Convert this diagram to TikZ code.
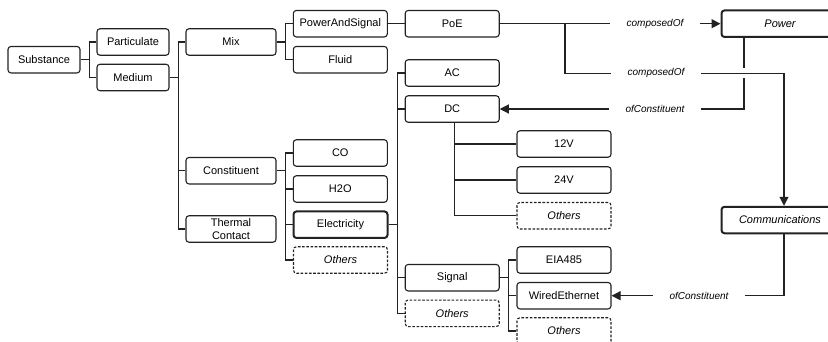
\documentclass[tikz,border=0pt]{standalone}
\usepackage{fontspec}
\setmainfont{Liberation Sans}
\usetikzlibrary{arrows.meta}
\definecolor{lc}{RGB}{34,34,34}
\begin{document}
\begin{tikzpicture}[x=1pt,y=-1pt,
  box/.style={draw=lc, line width=1.1pt, rounded corners=3pt, fill=white,
    minimum height=26.5pt, inner sep=0pt, align=center,
    font=\fontsize{11}{12.5}\selectfont},
  thickbox/.style={box, line width=2pt},
  dbox/.style={box, dash pattern=on 2.6pt off 1.6pt,
    font=\fontsize{11}{12.5}\selectfont\itshape},
  conn/.style={draw=lc, line width=1.1pt},
  lab/.style={fill=white, inner xsep=16.5pt, inner ysep=1pt,
    font=\fontsize{10}{12}\selectfont\itshape},
  arr/.style={-{Triangle[length=9pt,width=9pt]}}
]
\useasboundingbox (0,0) rectangle (828,341);
\clip (0,0) rectangle (828,341);

% nodes
\node[box, minimum width=72pt] (sub) at (44,59.7) {Substance};
\node[box, minimum width=72pt] (part) at (133,42) {Particulate};
\node[box, minimum width=72pt] (med) at (133,77.5) {Medium};
\node[box, minimum width=90pt] (mix) at (231,42) {Mix};
\node[box, minimum width=90pt] (cons) at (231,170.7) {Constituent};
\node[box, minimum width=90pt] (therm) at (231,229) {Thermal\\Contact};
\node[box, minimum width=94pt] (pas) at (340.3,23.7) {PowerAndSignal};
\node[box, minimum width=94pt] (fluid) at (340.3,59.7) {Fluid};
\node[box, minimum width=94pt] (poe) at (452.2,23.7) {PoE};
\node[box, minimum width=94pt] (co) at (340.3,153) {CO};
\node[box, minimum width=94pt] (h2o) at (340.3,189) {H2O};
\node[thickbox, minimum width=94pt] (elec) at (340.5,224.7) {Electricity};
\node[dbox, minimum width=94pt] (oth1) at (340.5,260) {Others};
\node[box, minimum width=94pt] (ac) at (452.2,73) {AC};
\node[box, minimum width=94pt] (dc) at (452.2,109) {DC};
\node[box, minimum width=94pt] (sig) at (452.2,277.7) {Signal};
\node[dbox, minimum width=94pt] (oth2) at (452.2,313.3) {Others};
\node[box, minimum width=94pt] (v12) at (564,144) {12V};
\node[box, minimum width=94pt] (v24) at (564,180) {24V};
\node[dbox, minimum width=94pt] (oth3) at (564,215.7) {Others};
\node[box, minimum width=94pt] (eia) at (564,260) {EIA485};
\node[box, minimum width=94pt] (wired) at (564,295.7) {WiredEthernet};
\node[dbox, minimum width=94pt] (oth4) at (564,331) {Others};
\node[thickbox, minimum width=117pt, font=\fontsize{11}{12.5}\selectfont\itshape] (power) at (780,23.7) {Power};
\node[thickbox, minimum width=117pt, font=\fontsize{11}{12.5}\selectfont\itshape] (comm) at (780,220) {Communications};

% tree connectors
\draw[conn] (sub.east) -- ++(9,0) coordinate (t0);
\draw[conn] (t0) |- (part.west);
\draw[conn] (t0) |- (med.west);

\draw[conn] (med.east) -- ++(9,0) coordinate (t1);
\draw[conn] (t1) |- (mix.west);
\draw[conn] (t1) |- (cons.west);
\draw[conn] (t1) |- (therm.west);

\draw[conn] (mix.east) -- ++(8.7,0) coordinate (t2);
\draw[conn] (t2) |- (pas.west);
\draw[conn] (t2) |- (fluid.west);

\draw[conn] (pas.east) -- (poe.west);

\draw[conn] (cons.east) -- ++(9,0) coordinate (t3);
\draw[conn] (t3) |- (co.west);
\draw[conn] (t3) |- (h2o.west);
\draw[conn] (t3) |- (elec.west);
\draw[conn] (t3) |- (oth1.west);

\draw[conn] (elec.east) -- ++(9,0) coordinate (t4);
\draw[conn] (t4) |- (ac.west);
\draw[conn] (t4) |- (dc.west);
\draw[conn] (t4) |- (sig.west);
\draw[conn] (t4) |- (oth2.west);

\coordinate (t5) at ([xshift=2pt]dc.south);
\draw[conn] (t5) |- (v12.west);
\draw[conn] (t5) |- (v24.west);
\draw[conn] (t5) |- (oth3.west);

\draw[conn] (sig.east) -- ++(9,0) coordinate (t6);
\draw[conn] (t6) |- (eia.west);
\draw[conn] (t6) |- (wired.west);
\draw[conn] (t6) |- (oth4.west);

% relation connectors
\coordinate (p1) at (744,109);
\coordinate (p2) at (784,295.7);
\coordinate (b1) at (565,23.7);
\coordinate (b2) at (565,73.3);
\coordinate (c1) at (784,73.3);

\draw[conn, arr] (power.south -| p1) -- (p1) -- (dc.east);
\draw[conn, arr] (comm.south -| p2) -- (p2) -- (wired.east);
\draw[draw=white, line width=10pt] (b2) -- (c1);
\draw[conn, arr] (poe.east) -- (power.west);
\draw[conn, arr] (b1) -- (b2) -- (c1) -- (comm.north -| c1);

\node[lab] (l1) at (655,23.7) {composedOf};
\node[lab] (l2) at (656,73.3) {composedOf};
\node[lab] (l3) at (655,109) {ofConstituent};
\node[lab] (l4) at (699,295.7) {ofConstituent};
\end{tikzpicture}
\end{document}
